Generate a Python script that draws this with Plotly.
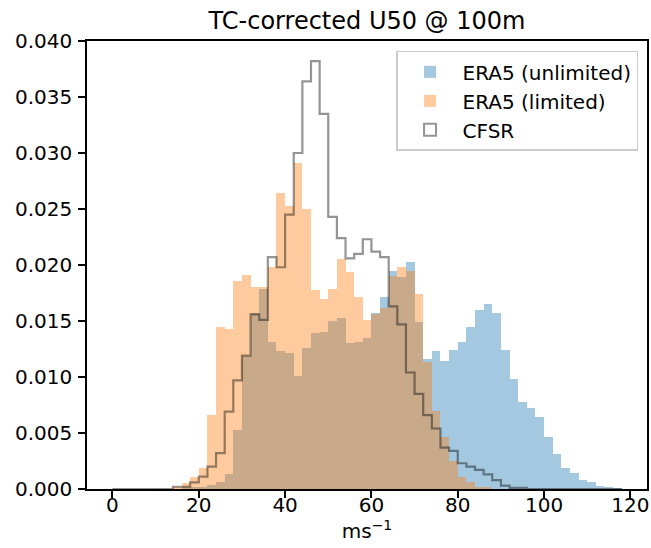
import numpy as np
import plotly.graph_objects as go

# Bin edges (m/s), width 2, shared by all three histograms
bin_edges = list(range(0, 120, 2))  # 0 .. 118

# Normalised histogram heights (density) per bin
era5_unlimited = [0, 0, 0, 0, 0, 0, 0,
                  0.0, 0.0001, 0.0002, 0.0002, 0.0004, 0.0006, 0.0013, 0.0053, 0.0119,
                  0.0157, 0.0179, 0.0131, 0.0123, 0.0121, 0.0101, 0.0126, 0.0139, 0.0140,
                  0.0150, 0.0153, 0.0130, 0.0131, 0.0135, 0.0157, 0.0171, 0.0195, 0.0189,
                  0.0203, 0.0149, 0.0116, 0.0123, 0.0114, 0.0124, 0.0131, 0.0145, 0.0160,
                  0.0165, 0.0157, 0.0124, 0.0098, 0.0078, 0.0072, 0.0064, 0.0046, 0.0031,
                  0.0019, 0.0014, 0.0008, 0.0006, 0.0003, 0.0001, 0.00005]

era5_limited = [0, 0, 0, 0, 0, 0, 0,
                0.0002, 0.0005, 0.0011, 0.0019, 0.0066, 0.0145, 0.0143, 0.0186, 0.0191,
                0.0180, 0.0180, 0.0198, 0.0264, 0.0253, 0.0291, 0.0250, 0.0178, 0.0170,
                0.0179, 0.0205, 0.0194, 0.0171, 0.0151, 0.0156, 0.0162, 0.0190, 0.0198,
                0.0195, 0.0174, 0.0113, 0.0070, 0.0046, 0.0025, 0.0011, 0.0006, 0.0002,
                0.0001, 0, 0, 0, 0, 0, 0, 0, 0, 0, 0, 0, 0, 0, 0, 0]

cfsr = [0, 0, 0, 0, 0, 0, 0,
        0.0002, 0.0002, 0.0006, 0.0011, 0.0020, 0.0032, 0.0069, 0.0097, 0.0119,
        0.0156, 0.0151, 0.0207, 0.0198, 0.0245, 0.0300, 0.0364, 0.0382, 0.0335,
        0.0243, 0.0224, 0.0206, 0.0210, 0.0223, 0.0212, 0.0207, 0.0163, 0.0147,
        0.0104, 0.0085, 0.0066, 0.0054, 0.0037, 0.0034, 0.0023, 0.0020, 0.0017,
        0.0013, 0.0008, 0.0003, 0.0001, 0.0001, 0, 0, 0, 0, 0, 0, 0, 0, 0, 0, 0]

y_ticks = [0.000, 0.005, 0.010, 0.015, 0.020, 0.025, 0.030, 0.035, 0.040]
x_ticks = [0, 20, 40, 60, 80, 100, 120]

edges = np.array(bin_edges, dtype=float)
centers = (edges[:-1] + edges[1:]) / 2
widths = np.diff(edges)

FONT = "DejaVu Sans"
FS = 20

fig = go.Figure()
fig.add_trace(go.Bar(x=centers, y=era5_unlimited, width=widths,
                     marker=dict(color="#1f77b4", line=dict(width=0)),
                     opacity=0.4, name="ERA5 (unlimited)"))
fig.add_trace(go.Bar(x=centers, y=era5_limited, width=widths,
                     marker=dict(color="#ff7f0e", line=dict(width=0)),
                     opacity=0.4, name="ERA5 (limited)"))

# step outline for CFSR
step_x = [edges[0]] + list(edges)
step_y = [0] + list(cfsr) + [0]
fig.add_trace(go.Scatter(x=step_x, y=step_y, mode="lines", line_shape="hv",
                         line=dict(color="rgba(0,0,0,0.42)", width=2.2),
                         showlegend=False, hoverinfo="skip", legendgroup="cfsr"))
# legend entry shown as an outlined patch
fig.add_trace(go.Bar(x=[None], y=[None], name="CFSR", legendgroup="cfsr",
                     marker=dict(color="rgba(255,255,255,0)",
                                 line=dict(color="rgba(0,0,0,0.42)", width=2))))

axis_common = dict(showline=True, linecolor="black", linewidth=1.5, mirror=True,
                   ticks="outside", ticklen=7, tickwidth=1.5, tickcolor="black",
                   showgrid=False, zeroline=False,
                   tickfont=dict(family=FONT, size=FS, color="black"))

fig.update_layout(
    width=651, height=548,
    margin=dict(l=87, r=2, t=41, b=59),
    paper_bgcolor="white", plot_bgcolor="white",
    barmode="overlay", bargap=0,
    font=dict(family=FONT, size=FS, color="black"),
    title=dict(text="TC-corrected U50 @ 100m", x=0.5, xref="paper",
               y=1, yref="paper", yanchor="bottom", pad=dict(b=12),
               font=dict(family=FONT, size=24, color="black")),
    xaxis=dict(range=[-5.9, 123.85], tickvals=x_ticks, ticklabelstandoff=-10,
               title=dict(text="ms<sup>−1</sup>", standoff=0,
                          font=dict(family=FONT, size=FS, color="black")),
               **axis_common),
    yaxis=dict(range=[0, 0.040], tickvals=y_ticks, tickformat=".3f",
               ticklabelstandoff=2, **axis_common),
    legend=dict(x=0.984, y=0.978, xanchor="right", yanchor="top",
                bgcolor="rgba(255,255,255,0.8)", bordercolor="#cccccc", borderwidth=1.5,
                font=dict(family=FONT, size=FS, color="black"),
                itemwidth=55, traceorder="normal"),
)

fig.write_html("out.html")
